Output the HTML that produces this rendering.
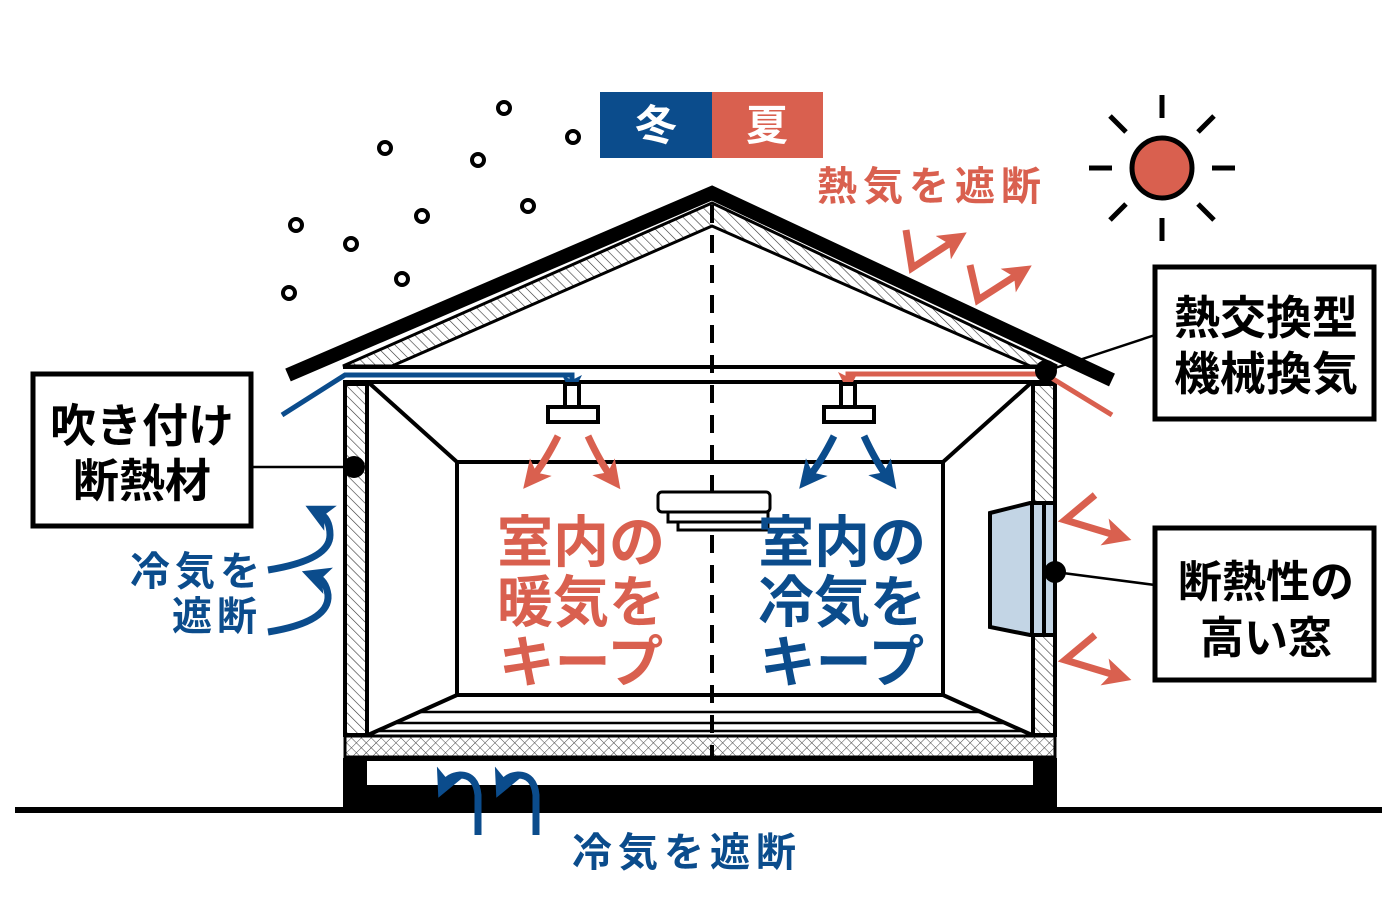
<!DOCTYPE html>
<html><head><meta charset="utf-8"><style>
html,body{margin:0;padding:0;background:#fff}
svg{display:block}
text{font-family:"Liberation Sans","Noto Sans CJK JP",sans-serif;font-weight:bold}
</style></head><body>
<svg width="1400" height="910" viewBox="0 0 1400 910" xmlns="http://www.w3.org/2000/svg">
<defs>
<pattern id="h" width="7" height="7" patternUnits="userSpaceOnUse" patternTransform="rotate(-45)">
<rect width="7" height="7" fill="#fff"/><line x1="0" y1="0" x2="0" y2="7" stroke="#333" stroke-width="1.2"/></pattern>
<pattern id="x" width="7" height="7" patternUnits="userSpaceOnUse" patternTransform="rotate(45)">
<rect width="7" height="7" fill="#fff"/><line x1="0" y1="0" x2="0" y2="7" stroke="#444" stroke-width="1"/><line x1="0" y1="0" x2="7" y2="0" stroke="#444" stroke-width="1"/></pattern>
<marker id="ar" markerWidth="4" markerHeight="4" refX="2" refY="2" orient="auto" markerUnits="strokeWidth"><path d="M0,0 L4,2 L0,4 L1,2 z" fill="#d9604f"/></marker>
<marker id="ab" markerWidth="4" markerHeight="4" refX="2" refY="2" orient="auto" markerUnits="strokeWidth"><path d="M0,0 L4,2 L0,4 L1,2 z" fill="#0b4c8c"/></marker>
</defs>
<g fill="none" stroke="#000" stroke-width="4">
<circle cx="504" cy="108" r="6"/><circle cx="573" cy="137" r="6"/><circle cx="385" cy="148" r="6"/><circle cx="478" cy="160" r="6"/><circle cx="528" cy="206" r="6"/><circle cx="296" cy="225" r="6"/><circle cx="422" cy="216" r="6"/><circle cx="351" cy="244" r="6"/><circle cx="402" cy="279" r="6"/><circle cx="289" cy="293" r="6"/>
</g>
<rect x="600" y="92" width="112" height="66" fill="#0b4c8c"/>
<rect x="712" y="92" width="111" height="66" fill="#d9604f"/>
<text x="656" y="140" font-size="42" fill="#fff" text-anchor="middle">冬</text>
<text x="767" y="140" font-size="42" fill="#fff" text-anchor="middle">夏</text>
<circle cx="1162" cy="168" r="30" fill="#d9604f" stroke="#000" stroke-width="5"/>
<g stroke="#000" stroke-width="5">
<line x1="1162" y1="95" x2="1162" y2="118"/><line x1="1162" y1="218" x2="1162" y2="241"/>
<line x1="1089" y1="168" x2="1112" y2="168"/><line x1="1212" y1="168" x2="1235" y2="168"/>
<line x1="1110" y1="116" x2="1126" y2="132"/><line x1="1198" y1="204" x2="1214" y2="220"/>
<line x1="1214" y1="116" x2="1198" y2="132"/><line x1="1110" y1="220" x2="1126" y2="204"/>
</g>
<text x="817" y="200" font-size="40" fill="#d9604f" letter-spacing="6">熱気を遮断</text>
<polygon points="343,366 712,203 1057,366 1030,366 712,226 392,366" fill="url(#h)" stroke="#000" stroke-width="3"/>
<polyline points="288,375 712,193 1112,380" fill="none" stroke="#000" stroke-width="14"/>
<line x1="343" y1="367" x2="1057" y2="367" stroke="#000" stroke-width="4"/>
<line x1="343" y1="382" x2="1057" y2="382" stroke="#000" stroke-width="4"/>
<rect x="345" y="384" width="22" height="351" fill="url(#h)" stroke="#000" stroke-width="4"/>
<rect x="1033" y="384" width="22" height="351" fill="url(#h)" stroke="#000" stroke-width="4"/>
<rect x="457" y="462" width="486" height="233" fill="none" stroke="#000" stroke-width="4"/>
<g stroke="#000" stroke-width="4">
<line x1="368" y1="382" x2="457" y2="462"/><line x1="1032" y1="382" x2="943" y2="462"/>
<line x1="368" y1="735" x2="457" y2="695"/><line x1="1032" y1="735" x2="943" y2="695"/>
</g>
<g stroke="#000" stroke-width="2.5">
<line x1="420" y1="712" x2="980" y2="712"/><line x1="395" y1="723" x2="1005" y2="723"/><line x1="378" y1="731" x2="1022" y2="731"/>
</g>
<rect x="345" y="736" width="710" height="21" fill="url(#x)" stroke="#000" stroke-width="3"/>
<path d="M343,758 H1057 V810 H343 Z M367,761 V785 H1033 V761 Z" fill="#000" fill-rule="evenodd"/>
<line x1="15" y1="810" x2="1382" y2="810" stroke="#000" stroke-width="6"/>
<line x1="712" y1="205" x2="712" y2="758" stroke="#000" stroke-width="4" stroke-dasharray="18,12"/>
<polyline points="282,415 345,375 572,375 572,385" fill="none" stroke="#0b4c8c" stroke-width="5" marker-end="url(#ab)"/>
<polyline points="1112,415 1045,374 848,374 848,382" fill="none" stroke="#d9604f" stroke-width="5" marker-end="url(#ar)"/>
<circle cx="1046" cy="371" r="11" fill="#000"/>
<line x1="1046" y1="371" x2="1155" y2="335" stroke="#000" stroke-width="2.5"/>
<g fill="#fff" stroke="#000" stroke-width="4">
<rect x="565" y="384" width="14" height="24"/><rect x="548" y="407" width="50" height="15"/>
<rect x="841" y="384" width="14" height="24"/><rect x="824" y="407" width="50" height="15"/>
</g>
<g fill="none" stroke-width="7">
<path d="M558,436 Q545,462 532,478" stroke="#d9604f" marker-end="url(#ar)"/>
<path d="M588,436 Q600,462 612,478" stroke="#d9604f" marker-end="url(#ar)"/>
<path d="M834,436 Q821,462 808,478" stroke="#0b4c8c" marker-end="url(#ab)"/>
<path d="M864,436 Q876,462 888,478" stroke="#0b4c8c" marker-end="url(#ab)"/>
</g>
<g fill="#fff" stroke="#000" stroke-width="3">
<rect x="658" y="492" width="112" height="20" rx="4"/>
<rect x="668" y="512" width="100" height="10"/>
<rect x="678" y="522" width="90" height="8"/>
</g>
<text x="581" y="562" font-size="56" fill="#d9604f" text-anchor="middle">室内の</text>
<text x="581" y="622" font-size="56" fill="#d9604f" text-anchor="middle">暖気を</text>
<text x="581" y="682" font-size="56" fill="#d9604f" text-anchor="middle">キープ</text>
<text x="842" y="562" font-size="56" fill="#0b4c8c" text-anchor="middle">室内の</text>
<text x="842" y="622" font-size="56" fill="#0b4c8c" text-anchor="middle">冷気を</text>
<text x="842" y="682" font-size="56" fill="#0b4c8c" text-anchor="middle">キープ</text>
<polygon points="990,513 1030,503 1055,503 1055,635 1030,635 990,627" fill="#c3d5e5" stroke="#000" stroke-width="4"/>
<line x1="1032" y1="503" x2="1032" y2="635" stroke="#000" stroke-width="4"/>
<line x1="1044" y1="503" x2="1044" y2="635" stroke="#000" stroke-width="4"/>
<circle cx="1055" cy="572" r="11" fill="#000"/>
<line x1="1055" y1="572" x2="1155" y2="585" stroke="#000" stroke-width="2.5"/>
<g fill="none" stroke="#d9604f" stroke-width="7">
<polyline points="1095,495 1065,520 1118,536" marker-end="url(#ar)"/>
<polyline points="1095,635 1065,660 1118,676" marker-end="url(#ar)"/>
<polyline points="906,230 912,268 955,240" marker-end="url(#ar)"/>
<polyline points="970,265 978,300 1020,273" marker-end="url(#ar)"/>
</g>
<circle cx="354" cy="467" r="11" fill="#000"/>
<line x1="252" y1="467" x2="354" y2="467" stroke="#000" stroke-width="2.5"/>
<rect x="33" y="374" width="218" height="152" fill="#fff" stroke="#000" stroke-width="5"/>
<text x="142" y="442" font-size="46" text-anchor="middle">吹き付け</text>
<text x="142" y="497" font-size="46" text-anchor="middle">断熱材</text>
<rect x="1155" y="267" width="219" height="152" fill="#fff" stroke="#000" stroke-width="5"/>
<text x="1266" y="334" font-size="46" text-anchor="middle">熱交換型</text>
<text x="1266" y="390" font-size="46" text-anchor="middle">機械換気</text>
<rect x="1155" y="528" width="219" height="152" fill="#fff" stroke="#000" stroke-width="5"/>
<text x="1266" y="597" font-size="44" text-anchor="middle">断熱性の</text>
<text x="1266" y="653" font-size="44" text-anchor="middle">高い窓</text>
<g fill="none" stroke="#0b4c8c" stroke-width="7">
<path d="M268,570 Q330,560 330,535 Q330,518 318,512" marker-end="url(#ab)"/>
<path d="M268,632 Q330,622 328,595 Q326,580 315,576" marker-end="url(#ab)"/>
<path d="M478,835 V795 Q476,775 460,775 Q448,776 444,785" marker-end="url(#ab)"/>
<path d="M536,835 V795 Q534,775 518,775 Q506,776 502,785" marker-end="url(#ab)"/>
</g>
<text x="130" y="585" font-size="40" fill="#0b4c8c" letter-spacing="5">冷気を</text>
<text x="172" y="630" font-size="40" fill="#0b4c8c" letter-spacing="5">遮断</text>
<text x="572" y="866" font-size="40" fill="#0b4c8c" letter-spacing="6">冷気を遮断</text>
</svg>
</body></html>
